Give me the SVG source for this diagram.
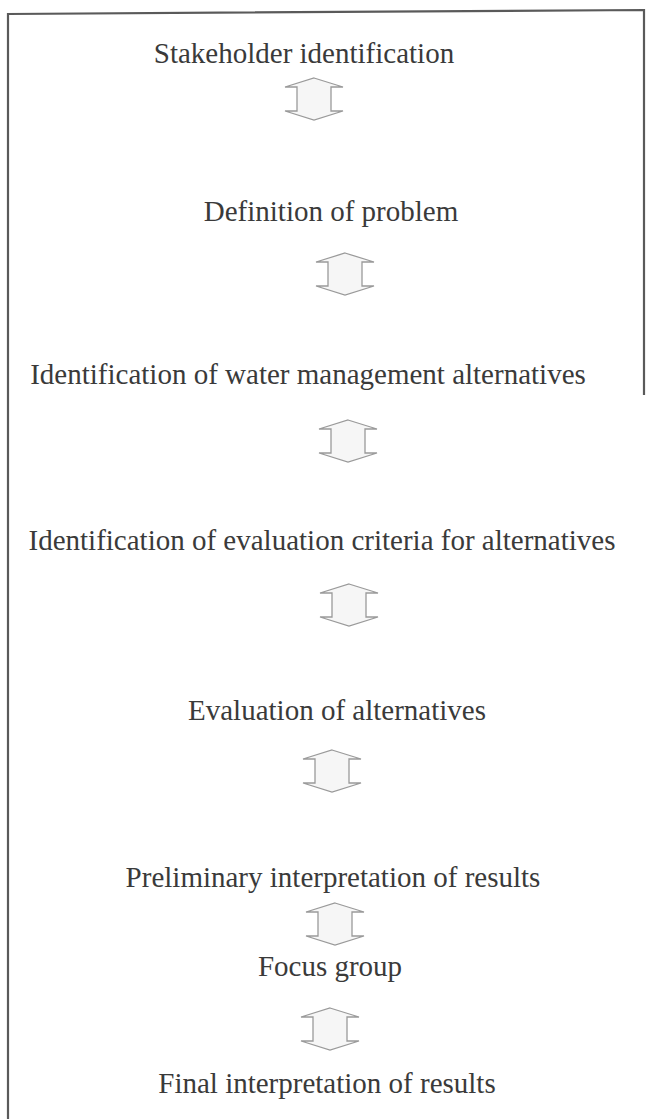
<svg xmlns="http://www.w3.org/2000/svg" width="646" height="1119" viewBox="0 0 646 1119">
<defs>
<style>
.t{font-family:"Liberation Serif","Times New Roman",serif;font-size:29px;fill:#3a3a3a;text-anchor:middle}
.a{fill:#f6f6f6;stroke:#9a9a9a;stroke-width:1.3;stroke-linejoin:miter}
.b{fill:none;stroke:#5a5a5a;stroke-width:2.2}
</style>
<path id="arr" class="a" d="M0,0 L29,9 L17,9 L17,33 L29,33 L0,42 L-29,33 L-17,33 L-17,9 L-29,9 Z"/>
</defs>
<rect width="646" height="1119" fill="#ffffff"/>
<g id="frame">
<path class="b" d="M8,1119 L8,14 L644,10 L644,395"/>
</g>
<g id="connectors">
<use href="#arr" x="314" y="78"/>
<use href="#arr" x="345" y="253"/>
<use href="#arr" x="348" y="420"/>
<use href="#arr" x="349" y="584"/>
<use href="#arr" x="332" y="750"/>
<use href="#arr" x="335" y="903"/>
<use href="#arr" x="330" y="1008"/>
</g>
<g id="n1"><text class="t" x="304" y="63">Stakeholder identification</text></g>
<g id="n2"><text class="t" x="331" y="221">Definition of problem</text></g>
<g id="n3"><text class="t" x="308" y="384">Identification of water management alternatives</text></g>
<g id="n4"><text class="t" x="322" y="550">Identification of evaluation criteria for alternatives</text></g>
<g id="n5"><text class="t" x="337" y="720">Evaluation of alternatives</text></g>
<g id="n6"><text class="t" x="333" y="887">Preliminary interpretation of results</text></g>
<g id="n7"><text class="t" x="330" y="976">Focus group</text></g>
<g id="n8"><text class="t" x="327" y="1093">Final interpretation of results</text></g>
</svg>
